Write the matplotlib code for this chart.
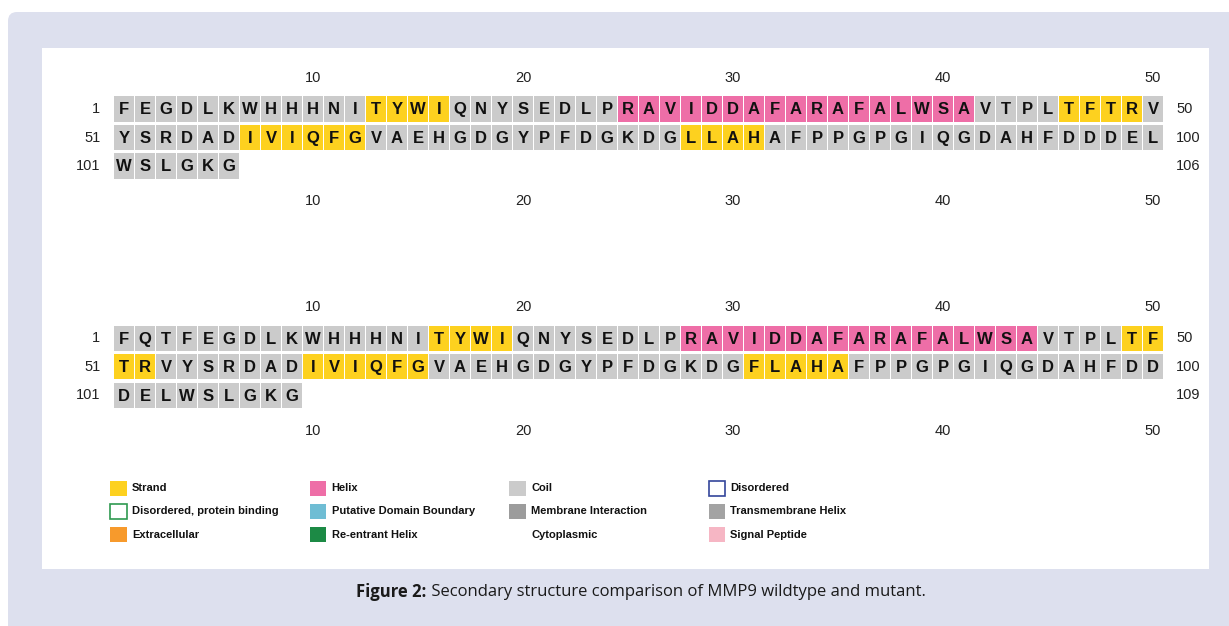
import matplotlib
matplotlib.use("Agg")
import matplotlib.pyplot as plt
from matplotlib.patches import Rectangle, FancyBboxPatch

# sequences (wildtype / mutant)
wt_seq = ("FEGDLKWHHHNITYWIQNYSEDLPRAVIDDAFARAFALWSAVTPLTFTRV"
          "YSRDADIVIQFGVAEHGDGYPFDGKDGLLAHAFPPGPGIQGDAHFDDDEL"
          "WSLGKG")
mut_seq = ("FQTFEGDLKWHHHNITYWIQNYSEDLPRAVIDDAFARAFALWSAVTPLTF"
           "TRVYSRDADIVIQFGVAEHGDGYPFDGKDGFLAHAFPPGPGIQGDAHFDD"
           "DELWSLGKG")

# secondary structure segments, 1-based inclusive residue ranges
wt_strand = [(13, 16), (46, 49), (57, 62), (78, 81)]
wt_helix = [(25, 41)]
mut_strand = [(16, 19), (49, 52), (60, 65), (81, 85)]
mut_helix = [(28, 44)]

col_ticks = [10, 20, 30, 40, 50]
per_row = 50

ss_colors = {"strand": "#fdd11f", "helix": "#ee6ea7", "coil": "#cbcbcb"}

legend_names = ["Strand", "Helix", "Coil", "Disordered",
                "Disordered, protein binding", "Putative Domain Boundary",
                "Membrane Interaction", "Transmembrane Helix",
                "Extracellular", "Re-entrant Helix", "Cytoplasmic", "Signal Peptide"]
legend_face = ["#fdd11f", "#ee6ea7", "#cbcbcb", "white",
               "white", "#6fbdd4", "#9c9c9c", "#a3a3a3",
               "#f79a2c", "#1c8a45", "none", "#f6b6c4"]
legend_edge = ["none", "none", "none", "#34469b",
               "#2f9a50", "none", "none", "none",
               "none", "none", "none", "none"]

W, H = 1229, 626
fig = plt.figure(figsize=(W / 100, H / 100), dpi=100)

seq_font = ["Liberation Sans", "DejaVu Sans"]

# page background
bg = fig.add_axes([0, 0, 1, 1])
bg.set_xlim(0, W)
bg.set_ylim(H, 0)
bg.axis("off")
bg.add_patch(FancyBboxPatch((8, 12), W + 40, H, boxstyle="round,pad=0,rounding_size=9",
                            facecolor="#dde0ee", edgecolor="none"))
bg.add_patch(Rectangle((42, 48), 1167, 521, facecolor="white", edgecolor="none"))


def ss_list(seq, strands, helices):
    ss = ["coil"] * len(seq)
    for a, b in strands:
        for i in range(a - 1, b):
            ss[i] = "strand"
    for a, b in helices:
        for i in range(a - 1, b):
            ss[i] = "helix"
    return ss


def draw_panel(top_px, seq, strands, helices):
    # one data unit = one residue column (21 px) / one row (28.5 px)
    left_px, col_w, row_h = 113.5, 21.0, 28.5
    ax = fig.add_axes([left_px / W, 1 - (top_px + 5 * row_h) / H,
                       per_row * col_w / W, 5 * row_h / H])
    ax.set_xlim(0.5, per_row + 0.5)
    ax.set_ylim(4.5, -0.5)
    ax.axis("off")
    ss = ss_list(seq, strands, helices)
    cols = [i % per_row + 1 for i in range(len(seq))]
    rows = [i // per_row + 1 for i in range(len(seq))]
    h = 0.88
    ax.bar(cols, h, bottom=[r - h / 2 for r in rows], width=0.905,
           color=[ss_colors[s] for s in ss], linewidth=0)
    for c, r, aa in zip(cols, rows, seq):
        ax.text(c, r + 0.03, aa, ha="center", va="center", fontsize=12,
                fontweight="bold", family=seq_font, color="#111111")
    nrows = (len(seq) - 1) // per_row + 1
    for r in range(nrows):
        ax.text(-0.12, r + 1, str(r * per_row + 1), ha="right", va="center",
                fontsize=10.5, family=seq_font, color="#222222")
        ax.text(51.1, r + 1, str(min((r + 1) * per_row, len(seq))), ha="left",
                va="center", fontsize=10.5, family=seq_font, color="#222222")
    for c in col_ticks:
        ax.text(c, -0.1, str(c), ha="center", va="center", fontsize=10.5,
                family=seq_font, color="#222222")
        ax.text(c, 4.24, str(c), ha="center", va="center", fontsize=10.5,
                family=seq_font, color="#222222")


draw_panel(66.25, wt_seq, wt_strand, wt_helix)
draw_panel(295.5, mut_seq, mut_strand, mut_helix)

# legend, 4 columns x 3 rows
for i, name in enumerate(legend_names):
    r, c = divmod(i, 4)
    x = 110 + c * 199.5
    y = 488 + r * 23.3
    if legend_face[i] != "none":
        bg.add_patch(Rectangle((x, y - 7.5), 16.5, 15, facecolor=legend_face[i],
                               edgecolor=legend_edge[i], linewidth=1.2))
    bg.text(x + 22, y, name, ha="left", va="center", fontsize=8,
            fontweight="bold", family=seq_font, color="#111111")

# caption
cap_font = ["Open Sans", "DejaVu Sans"]
t1 = bg.text(0, 592, "Figure 2:", ha="left", va="center", fontsize=12,
             fontweight="bold", family=cap_font, color="#1a1a1a")
t2 = bg.text(0, 592, " Secondary structure comparison of MMP9 wildtype and mutant.",
             ha="left", va="center", fontsize=12, family=cap_font, color="#1a1a1a")
fig.canvas.draw()
r = fig.canvas.get_renderer()
w1 = t1.get_window_extent(r).width
w2 = t2.get_window_extent(r).width
x0 = 641 - (w1 + w2) / 2
t1.set_x(x0)
t2.set_x(x0 + w1)

fig.savefig("out.png", dpi=100)
